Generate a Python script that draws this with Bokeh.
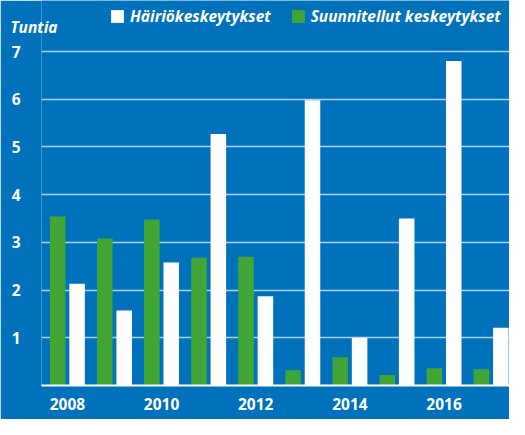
from bokeh.plotting import figure
from bokeh.models import (ColumnDataSource, FixedTicker, Legend, LegendItem, Range1d,
                          LinearAxis)
from bokeh.transform import dodge
from bokeh.embed import file_html
from bokeh.resources import INLINE

years = [2008, 2009, 2010, 2011, 2012, 2013, 2014, 2015, 2016, 2017]
hairio = [2.13, 1.57, 2.58, 5.27, 1.87, 5.98, 1.00, 3.50, 6.80, 1.21]
suunniteltu = [3.54, 3.08, 3.48, 2.68, 2.70, 0.32, 0.59, 0.22, 0.36, 0.34]
year_ticks = [2008, 2010, 2012, 2014, 2016]
y_ticks = [1, 2, 3, 4, 5, 6, 7]
y_title = "Tuntia"
y_title_pos = 7.52
label_hairio = "Häiriökeskeytykset"
label_suunn = "Suunnitellut keskeytykset"

BG = "#0072bb"
GREEN = "#41a535"
FONT = "Open Sans"
FS = "15.5px"

src = ColumnDataSource(dict(year=years, hairio=hairio, suunn=suunniteltu))

p = figure(width=509, height=419, output_backend="svg", toolbar_location=None,
           x_range=Range1d(2007.45, 2017.39), y_range=Range1d(0, 8.069),
           min_border_left=41, min_border_right=0, min_border_top=0, min_border_bottom=34)
p.background_fill_color = BG
p.border_fill_color = BG
p.outline_line_color = None

r_s = p.vbar(x=dodge('year', -0.206, range=p.x_range), top='suunn', width=0.33,
             source=src, fill_color=GREEN, line_color=None)
r_h = p.vbar(x=dodge('year', 0.206, range=p.x_range), top='hairio', width=0.33,
             source=src, fill_color="white", line_color=None)

# axes
p.xaxis.ticker = FixedTicker(ticks=year_ticks)
p.xaxis.axis_line_color = "white"
p.xaxis.axis_line_width = 2
p.xaxis.major_tick_line_color = None
p.xaxis.minor_tick_line_color = None
p.xaxis.major_tick_out = 0
p.xaxis.minor_tick_out = 0
p.xaxis.major_label_standoff = 12
p.xaxis.major_label_text_color = "white"
p.xaxis.major_label_text_font = FONT
p.xaxis.major_label_text_font_style = "bold"
p.xaxis.major_label_text_font_size = FS

p.yaxis.ticker = FixedTicker(ticks=y_ticks)
p.yaxis.axis_line_color = None
p.yaxis.major_tick_line_color = None
p.yaxis.minor_tick_line_color = None
p.yaxis.major_tick_out = 0
p.yaxis.minor_tick_out = 0
p.yaxis.major_label_standoff = 21
p.yaxis.major_label_text_color = "white"
p.yaxis.major_label_text_font = FONT
p.yaxis.major_label_text_font_style = "bold"
p.yaxis.major_label_text_font_size = FS

# unit title "Tuntia" drawn as a label of a second left axis
unit_axis = LinearAxis(ticker=FixedTicker(ticks=[y_title_pos]),
                       major_label_overrides={y_title_pos: y_title},
                       axis_line_color=None, major_tick_line_color=None,
                       minor_tick_line_color=None, major_tick_out=0, minor_tick_out=0,
                       major_label_standoff=-49,
                       major_label_text_color="white", major_label_text_font=FONT,
                       major_label_text_font_style="bold italic",
                       major_label_text_font_size=FS)
p.add_layout(unit_axis, "left")

p.xgrid.grid_line_color = None
p.ygrid.ticker = FixedTicker(ticks=y_ticks)
p.ygrid.grid_line_color = "#a8cfeb"
p.ygrid.grid_line_width = 1.5

legend = Legend(items=[LegendItem(label=label_hairio, renderers=[r_h]),
                       LegendItem(label=label_suunn, renderers=[r_s])],
                orientation="horizontal", location=(68, 358),
                padding=0, margin=0, spacing=19,
                glyph_width=16, glyph_height=16, label_height=16, label_standoff=5,
                background_fill_alpha=0, border_line_color=None,
                label_text_color="white", label_text_font=FONT,
                label_text_font_style="bold italic", label_text_font_size=FS)
p.add_layout(legend)

open("out.html", "w").write(file_html(p, INLINE))
